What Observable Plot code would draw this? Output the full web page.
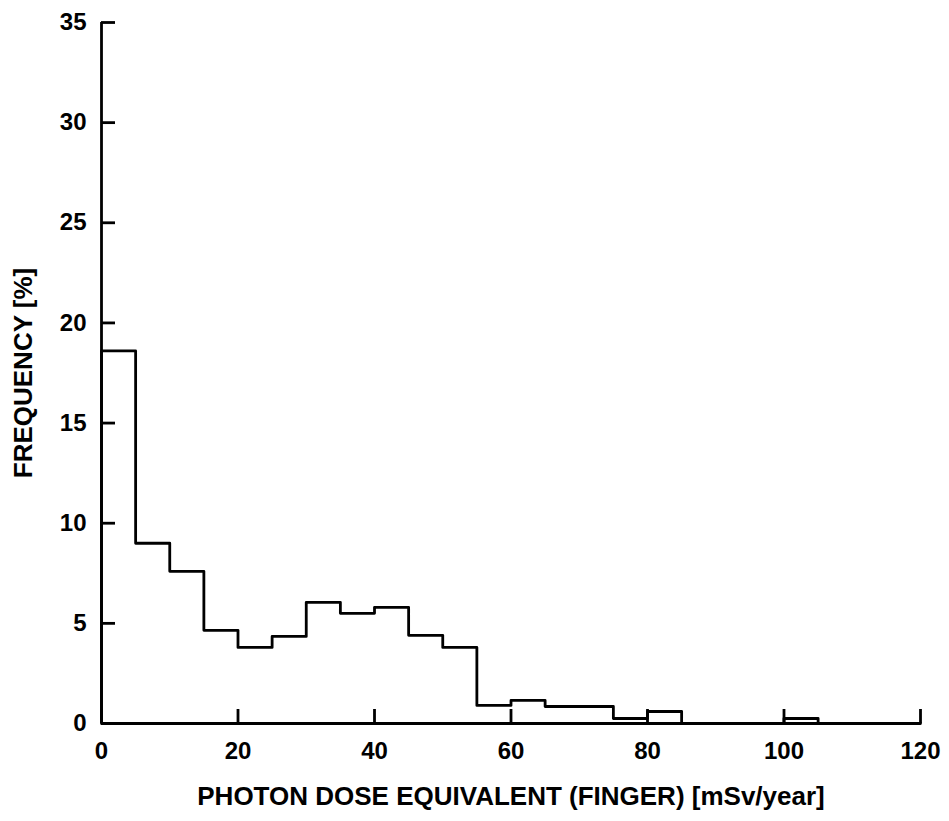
<!DOCTYPE html>
<html>
<head>
<meta charset="utf-8">
<script src="https://cdn.jsdelivr.net/npm/d3@7"></script>
<script src="https://cdn.jsdelivr.net/npm/@observablehq/plot@0.6"></script>
<style>
  html, body { margin: 0; padding: 0; background: #fff; }
</style>
</head>
<body>
<div id="chart"></div>
<script>
// Bin start edges (mSv/year), 5-wide bins
const binStarts = [0,5,10,15,20,25,30,35,40,45,50,55,60,65,70,75,80,85,90,95,100,105,110,115];
// Frequency [%] per bin
const frequency = [18.6,9.0,7.6,4.65,3.8,4.35,6.05,5.5,5.8,4.4,3.8,0.9,1.15,0.85,0.85,0.25,0.6,0,0,0,0.25,0,0,0];
const xEnd = 120;
const xTicks = [0,20,40,60,80,100,120];
const yTicks = [0,5,10,15,20,25,30,35];
const xLabel = "PHOTON DOSE EQUIVALENT (FINGER) [mSv/year]";
const yLabel = "FREQUENCY [%]";

const steps = [{x: 0, y: 0}]
  .concat(binStarts.map((b, i) => ({x: b, y: frequency[i]})))
  .concat([{x: xEnd, y: 0}]);

const chart = Plot.plot({
  width: 949,
  height: 821,
  marginLeft: 101,
  marginRight: 29,
  marginTop: 22,
  marginBottom: 98,
  style: {fontFamily: "'Liberation Sans', Arial, sans-serif", fontSize: "25px", color: "#000", background: "#fff"},
  x: {domain: [0, 120]},
  y: {domain: [0, 35]},
  marks: [
    Plot.axisX({ticks: xTicks, tickSize: -14, tickPadding: 32, strokeWidth: 2.8, fontWeight: "bold", fontSize: 24,
      label: xLabel, labelAnchor: "center", labelOffset: 81, labelArrow: "none"}),
    Plot.axisY({ticks: yTicks, tickSize: -14, tickPadding: 29, strokeWidth: 2.8, fontWeight: "bold", fontSize: 24,
      label: yLabel, labelAnchor: "center", labelOffset: 88, labelArrow: "none"}),
    Plot.ruleX([0], {stroke: "#000", strokeWidth: 2.8}),
    Plot.ruleY([0], {stroke: "#000", strokeWidth: 2.8}),
    Plot.line(steps, {x: "x", y: "y", curve: "step-after", stroke: "#000", strokeWidth: 2.8})
  ]
});
chart.querySelectorAll("g[aria-label$='axis label'] text, g[aria-label$='axis label']").forEach(el => {
  el.setAttribute("font-size", "26");
  el.setAttribute("font-weight", "bold");
});
document.getElementById("chart").appendChild(chart);
</script>
</body>
</html>
